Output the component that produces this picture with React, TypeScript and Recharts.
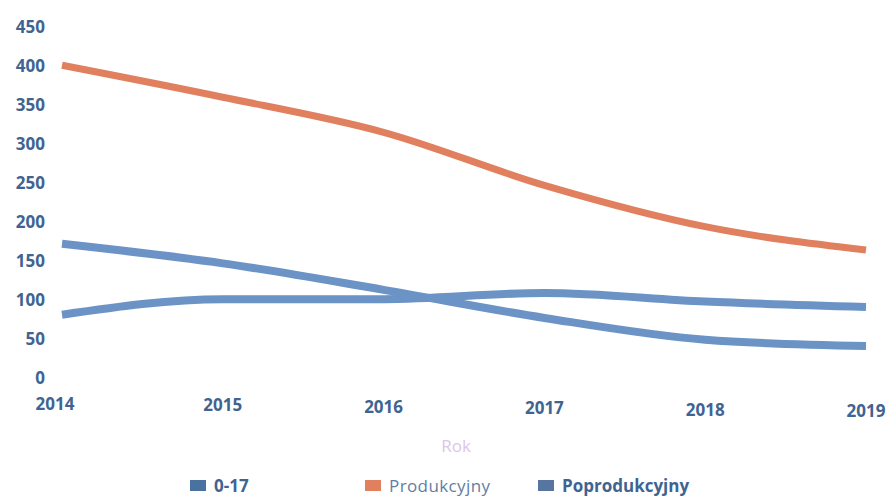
import React from 'react';
import { LineChart, Line, XAxis, YAxis, Legend } from 'recharts';

const years = ['2014', '2015', '2016', '2017', '2018', '2019'];
const kids = [172, 147, 113, 77, 49, 41];
const working = [401, 360, 315, 247, 194, 164];
const retired = [81, 101, 101, 109, 98, 91];
const yTicks = [0, 50, 100, 150, 200, 250, 300, 350, 400, 450];

const BLUE = '#6b93c6';
const ORANGE = '#e0805e';
const TEXT = '#3f6491';
const FONT = '"Open Sans", "DejaVu Sans", sans-serif';

const data = years.map((y, i) => ({
  year: y,
  kids: kids[i],
  working: working[i],
  retired: retired[i],
}));

// legend items, drawn by hand to get the mixed weights
const legendItems = [
  { label: '0-17', icon: '#4a72a0', color: TEXT, weight: 700, left: 190 },
  { label: 'Produkcyjny', icon: ORANGE, color: '#5f7ea3', weight: 400, left: 365 },
  { label: 'Poprodukcyjny', icon: '#5874a0', color: TEXT, weight: 700, left: 538 },
];

const renderLegend = () => (
  <div style={{ position: 'relative', width: 889, height: 24, fontFamily: FONT }}>
    {legendItems.map(item => (
      <div
        key={item.label}
        style={{
          position: 'absolute',
          left: item.left,
          top: 0,
          display: 'flex',
          alignItems: 'center',
          whiteSpace: 'nowrap',
        }}
      >
        <span style={{ width: 16, height: 11, background: item.icon, marginRight: 8, display: 'inline-block' }} />
        <span style={{ fontSize: 17, fontWeight: item.weight, color: item.color, letterSpacing: item.weight === 400 ? 0.4 : 0 }}>
          {item.label}
        </span>
      </div>
    ))}
  </div>
);

// years sit a little lower towards the right in the original, first one nudged left
const XTick = (props: any) => {
  const { x, y, payload, index } = props;
  return (
    <text
      x={x + (index === 0 ? -7 : 0)}
      y={y + 2 + index * 1.4}
      dy="0.71em"
      textAnchor="middle"
      fill={TEXT}
      fontSize={17}
      fontWeight={700}
      fontFamily={FONT}
    >
      {payload.value}
    </text>
  );
};

export default function App() {
  return (
    <div style={{ position: 'absolute', left: 0, top: 0, width: 889, height: 499, background: '#fff' }}>
      <LineChart width={889} height={499} data={data} margin={{ top: 27, right: 23, left: 0, bottom: 0 }}>
        <XAxis
          dataKey="year"
          axisLine={false}
          tickLine={false}
          tickMargin={12}
          height={97}
          interval={0}
          tick={<XTick />}
          label={{ value: 'Rok', position: 'insideTop', offset: 62, dx: -8, fill: '#dcc6ea', fontSize: 17, fontFamily: FONT }}
        />
        <YAxis
          width={62}
          domain={[0, 450]}
          ticks={yTicks}
          axisLine={false}
          tickLine={false}
          tickMargin={11}
          tick={{ fill: TEXT, fontSize: 17, fontWeight: 700, fontFamily: FONT }}
        />
        <Legend
          content={renderLegend}
          wrapperStyle={{ left: 0, top: 474, width: 889 }}
        />
        <Line type="monotone" dataKey="kids" name="0-17" stroke={BLUE} strokeWidth={8} dot={false} isAnimationActive={false} />
        <Line type="monotone" dataKey="working" name="Produkcyjny" stroke={ORANGE} strokeWidth={7} dot={false} isAnimationActive={false} />
        <Line type="monotone" dataKey="retired" name="Poprodukcyjny" stroke={BLUE} strokeWidth={8} dot={false} isAnimationActive={false} />
      </LineChart>
    </div>
  );
}
